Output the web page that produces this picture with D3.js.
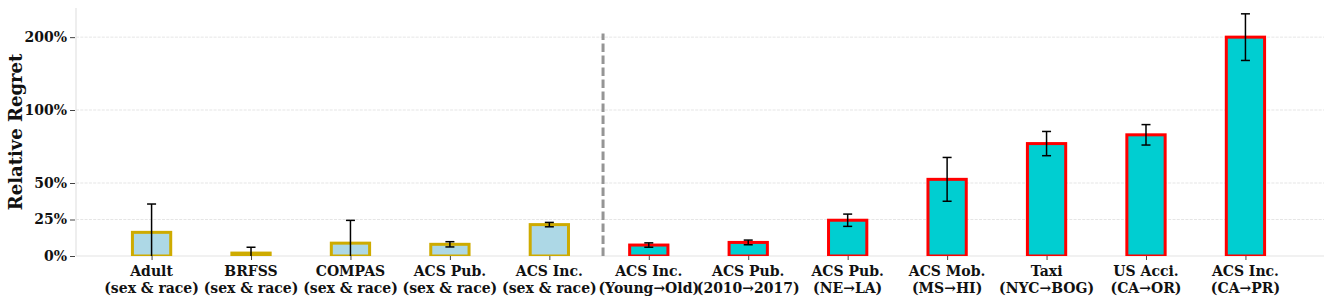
<!DOCTYPE html>
<html><head><meta charset="utf-8">
<script src="https://cdn.jsdelivr.net/npm/d3@7"></script>
<style>body{margin:0;background:#fff}svg{display:block}</style>
</head><body><svg id="c" width="1329" height="306"></svg>
<script>
const categories = ["Adult","BRFSS","COMPAS","ACS Pub.","ACS Inc.","ACS Inc.","ACS Pub.","ACS Pub.","ACS Mob.","Taxi","US Acci.","ACS Inc."];
const subLabels = ["(sex & race)","(sex & race)","(sex & race)","(sex & race)","(sex & race)","(Young→Old)","(2010→2017)","(NE→LA)","(MS→HI)","(NYC→BOG)","(CA→OR)","(CA→PR)"];
const values = [16.2, 2.0, 8.8, 8.0, 21.5, 7.5, 9.3, 24.5, 52.5, 77, 83, 200];
const errors = [19.4, 4.0, 15.6, 1.8, 1.5, 1.5, 1.6, 4.2, 15, 8.3, 7, 32];
const groups = ["sub","sub","sub","sub","sub","shift","shift","shift","shift","shift","shift","shift"];
const yTicks = [0, 25, 50, 100, 200];
const yTickLabels = ["0%","25%","50%","100%","200%"];
const dividerPos = 4.54;
const dividerTop = 205;

const fill = {sub: "#add8e6", shift: "#00ced1"};
const edge = {sub: "#ceab00", shift: "#ff0000"};
const FONT = "'DejaVu Serif', serif";

const svg = d3.select("#c");
const x = d3.scaleLinear().domain([-0.76, 11.79]).range([76, 1324]);
const y = d3.scaleLinear().domain([0, 100, 240]).range([256, 110, 8]);
const barW = 0.385;

svg.append("defs").append("clipPath").attr("id","clip")
  .append("rect").attr("x", x.range()[0]).attr("y", 0)
  .attr("width", x.range()[1]-x.range()[0]).attr("height", y(0));

// grid
svg.append("g").selectAll("line").data(yTicks.slice(1)).join("line")
  .attr("x1", x.range()[0]).attr("x2", x.range()[1])
  .attr("y1", d => y(d)).attr("y2", d => y(d))
  .attr("stroke", "#dedede").attr("stroke-width", 0.8).attr("stroke-dasharray", "3,1.3");

// spines
svg.append("line").attr("x1", x.range()[0]).attr("x2", x.range()[0]).attr("y1", 8).attr("y2", y(0))
  .attr("stroke", "#e3e3e3").attr("stroke-width", 1.2);
svg.append("line").attr("x1", x.range()[0]).attr("x2", x.range()[1]).attr("y1", y(0)).attr("y2", y(0))
  .attr("stroke", "#e3e3e3").attr("stroke-width", 1.2);

// y axis
const yAxis = d3.axisLeft(y).tickValues(yTicks).tickFormat((d,i) => yTickLabels[i]).tickSize(5).tickPadding(3);
const gy = svg.append("g").attr("transform", `translate(${x.range()[0]-1},0)`).call(yAxis);
gy.select(".domain").remove();
gy.selectAll(".tick line").attr("stroke", "#444").attr("stroke-width", 1);
gy.selectAll(".tick text").attr("font-family", FONT).attr("font-weight", "bold").attr("font-size", 14).attr("fill", "#111");

// x axis
const idx = d3.range(categories.length);
const xAxis = d3.axisBottom(x).tickValues(idx).tickFormat(() => "").tickSize(4);
const gx = svg.append("g").attr("transform", `translate(0,${y(0)})`).call(xAxis);
gx.select(".domain").remove();
gx.selectAll(".tick line").attr("stroke", "#444").attr("stroke-width", 1);
const lab = svg.append("g").attr("font-family", FONT).attr("font-weight", "bold").attr("font-size", 14).attr("fill", "#111").attr("text-anchor", "middle");
lab.selectAll("text.l1").data(idx).join("text").attr("class","l1")
  .attr("x", d => x(d)).attr("y", 276).text(d => categories[d]);
lab.selectAll("text.l2").data(idx).join("text").attr("class","l2")
  .attr("x", d => x(d)).attr("y", 293).text(d => subLabels[d]);

// y label
svg.append("text").attr("transform", "translate(22,132) rotate(-90)")
  .attr("text-anchor", "middle").attr("font-family", FONT).attr("font-weight", "bold")
  .attr("font-size", 18).attr("fill", "#111").text("Relative Regret");

// bars
const plot = svg.append("g").attr("clip-path", "url(#clip)");
plot.selectAll("rect.bar").data(idx).join("rect").attr("class","bar")
  .attr("x", d => x(d - barW/2)).attr("width", d => x(d + barW/2) - x(d - barW/2))
  .attr("y", d => y(values[d])).attr("height", d => y(0) - y(values[d]))
  .attr("fill", d => fill[groups[d]]).attr("stroke", d => edge[groups[d]]).attr("stroke-width", 3);

// divider
svg.append("line").attr("x1", x(dividerPos)).attr("x2", x(dividerPos))
  .attr("y1", y(0)).attr("y2", y(dividerTop))
  .attr("stroke", "#959595").attr("stroke-width", 3).attr("stroke-dasharray", "8.5,3.5");

// error bars
const eb = plot.append("g").attr("stroke", "#000").attr("stroke-width", 1.5);
eb.selectAll("line.v").data(idx).join("line").attr("class","v")
  .attr("x1", d => x(d)).attr("x2", d => x(d))
  .attr("y1", d => y(values[d] - errors[d])).attr("y2", d => y(values[d] + errors[d]));
eb.selectAll("line.ct").data(idx).join("line").attr("class","ct")
  .attr("x1", d => x(d) - 4.5).attr("x2", d => x(d) + 4.5)
  .attr("y1", d => y(values[d] + errors[d])).attr("y2", d => y(values[d] + errors[d]));
eb.selectAll("line.cb").data(idx).join("line").attr("class","cb")
  .attr("x1", d => x(d) - 4.5).attr("x2", d => x(d) + 4.5)
  .attr("y1", d => y(values[d] - errors[d])).attr("y2", d => y(values[d] - errors[d]));
</script></body></html>
